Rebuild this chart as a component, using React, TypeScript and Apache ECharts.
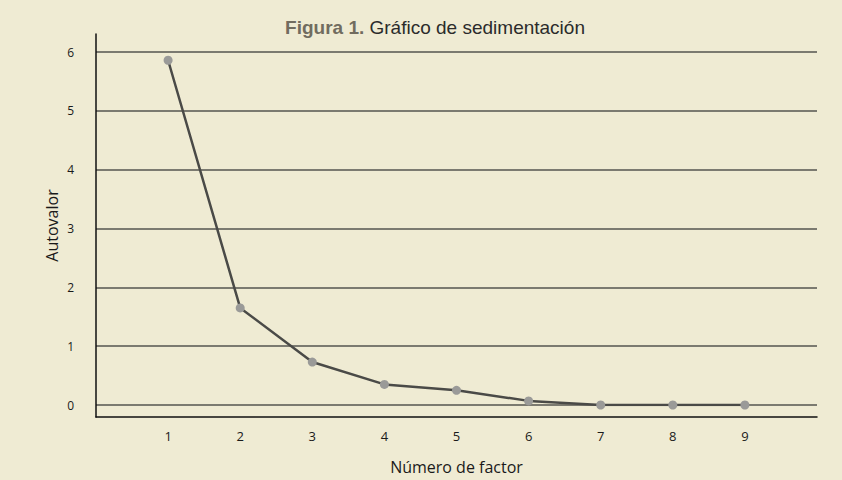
import React, { useEffect, useRef } from "react";
import * as echarts from "echarts";

const factors = [1, 2, 3, 4, 5, 6, 7, 8, 9];
const eigenvalues = [5.86, 1.65, 0.73, 0.35, 0.25, 0.07, 0.0, 0.0, 0.0];
const yTicks = [0, 1, 2, 3, 4, 5, 6];
const titleBold = "Figura 1.";
const titleRest = " Gráfico de sedimentación";
const xName = "Número de factor";
const yName = "Autovalor";

export default function App() {
  const ref = useRef<HTMLDivElement>(null);
  useEffect(() => {
    if (!ref.current) return;
    const chart = echarts.init(ref.current, null, { renderer: "svg" });
    const font = "'Open Sans', 'DejaVu Sans', sans-serif";
    const tfont = "'Liberation Sans', Arial, sans-serif";
    chart.setOption({
      animation: false,
      backgroundColor: "#efebd3",
      title: {
        text: `{b|${titleBold}}{r|${titleRest}}`,
        left: 430,
        top: 13,
        textAlign: "center",
        textStyle: {
          fontWeight: "normal",
          rich: {
            b: { fontFamily: tfont, fontWeight: "bold", fontSize: 19, color: "#716c5f" },
            r: { fontFamily: tfont, fontWeight: "normal", fontSize: 19, color: "#2b2b2b" },
          },
        },
      },
      grid: [
        { left: 96, right: 25, top: 52, bottom: 75 },
        { left: 96, right: 25, top: 34, bottom: 55 },
      ],
      xAxis: [
        { type: "value", gridIndex: 0, min: 0, max: 10, show: false },
        {
          type: "value",
          gridIndex: 1,
          min: 0,
          max: 10,
          interval: 1,
          axisLine: { show: true, lineStyle: { color: "#111", width: 1.5 } },
          axisTick: { show: false },
          splitLine: { show: false },
          axisLabel: {
            margin: 12,
            fontFamily: font,
            fontSize: 13,
            color: "#1a1a1a",
            formatter: (v: number) => (factors.includes(v) ? String(v) : ""),
          },
          name: xName,
          nameLocation: "middle",
          nameGap: 42,
          nameTextStyle: { fontFamily: font, fontSize: 16, color: "#1a1a1a" },
        },
      ],
      yAxis: [
        {
          type: "value",
          gridIndex: 0,
          min: yTicks[0],
          max: yTicks[yTicks.length - 1],
          interval: 1,
          axisLine: { show: false },
          axisTick: { show: false },
          splitLine: { show: true, lineStyle: { color: "#55554f", width: 1.5 } },
          axisLabel: { margin: 22, fontFamily: font, fontSize: 12, color: "#1a1a1a" },
        },
        {
          type: "value",
          gridIndex: 1,
          axisLine: { show: true, lineStyle: { color: "#111", width: 1.5 } },
          axisTick: { show: false },
          axisLabel: { show: false },
          splitLine: { show: false },
          name: yName,
          nameLocation: "middle",
          nameGap: 36,
          nameTextStyle: { fontFamily: font, fontSize: 16, color: "#1a1a1a" },
        },
      ],
      series: [
        {
          type: "line",
          xAxisIndex: 0,
          yAxisIndex: 0,
          data: factors.map((f, i) => [f, eigenvalues[i]]),
          symbol: "circle",
          symbolSize: 9,
          lineStyle: { color: "#4a4a47", width: 2.5 },
          itemStyle: { color: "#9a9a98" },
        },
      ],
    });
    return () => chart.dispose();
  }, []);
  return <div ref={ref} style={{ width: 842, height: 480, position: "absolute", left: 0, top: 0 }} />;
}
